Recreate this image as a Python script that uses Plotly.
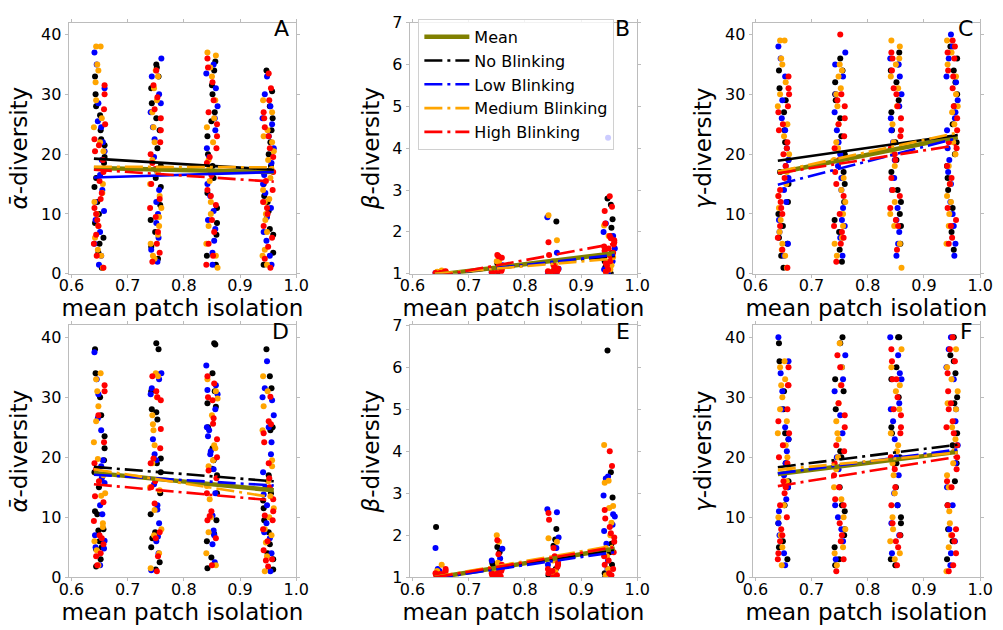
import plotly.graph_objects as go

# Group centres on the x axis (mean patch isolation) and a fixed jitter pattern
GROUPS = [0.65, 0.75, 0.85, 0.95]
JITTER = [-0.008, 0.004, -0.002, 0.009, -0.006, 0.001, 0.007, -0.009, 0.003, -0.004,
          0.006, -0.001, 0.010, -0.007, 0.002, -0.003, 0.008, -0.010, 0.005, 0.000,
          -0.005, 0.009, -0.002, 0.004, -0.008, 0.006, 0.001, -0.006, 0.003, -0.009, 0.007]

SERIES = ["none", "low", "medium", "high"]
SERIES_NAMES = {"mean": "Mean", "none": "No Blinking", "low": "Low Blinking",
                "medium": "Medium Blinking", "high": "High Blinking"}
COLORS = {"mean": "#808000", "none": "#000000", "low": "#0000ff",
          "medium": "#ffa500", "high": "#ff0000"}

# ---- Panel A: mean alpha diversity ----
A_NONE = [[33, 30, 26.5, 22.5, 21.5, 19.5, 18.5, 14.5, 10, 8.5, 6, 5, 1, 24, 16, 12, 3.5, 28],
          [35, 33, 31, 28.5, 26, 21, 18, 14.5, 11.5, 9, 7, 4.5, 24, 16, 2.5, 34.5],
          [35.5, 34, 30, 27, 23, 20, 18, 16, 11, 8.5, 6.5, 3, 25.5, 13.5, 1.5, 31.5],
          [34, 28, 24, 22, 20, 18, 15, 13, 10.5, 7.5, 6.5, 3.5, 26, 17, 12, 1.5, 30.5]]
A_LOW = [[37, 35, 28.5, 25.5, 24.5, 22, 19, 16.5, 14, 12, 9, 7, 3, 31, 20.5, 10.5, 5, 1.5],
         [36, 30, 27, 24.5, 22.5, 19.5, 17, 14, 10, 8.5, 6, 4, 33, 12, 2, 28.5],
         [33.5, 31, 28, 24, 21, 19.5, 17, 13, 10.5, 7.5, 5.5, 3.5, 26, 15, 9, 1.5, 35],
         [33, 30, 26, 25, 21, 18.5, 15, 13.5, 9.5, 5.5, 3, 1.5, 28, 23, 11, 7, 16.5]]
A_MEDIUM = [[38, 38, 35, 34, 29, 24.5, 20.5, 17.5, 15, 12, 10, 8, 4, 3, 1, 26, 22, 13.5, 6, 32],
            [34, 33, 29, 27, 24.5, 22, 19, 15, 13, 11, 8, 5, 3, 2.5, 31, 17, 9.5, 6.5],
            [37, 36.5, 33, 26, 22, 19, 15.5, 12, 8, 5, 3, 1, 29, 24.5, 17.5, 10, 34.5],
            [29, 24, 23, 22, 19, 16, 12.5, 12, 10, 7, 4, 3, 27, 20.5, 17.5, 14, 9, 1.5]]
A_HIGH = [[31.5, 30, 27.5, 22.5, 21.5, 20.5, 17, 15.5, 13.5, 12.5, 10, 9, 8, 6.5, 5, 1, 25, 19, 11, 3],
          [34, 29.5, 26, 24, 22, 20, 17.5, 15, 12.5, 9.5, 7, 5, 2, 31.5, 27.5, 18.5, 11, 3.5],
          [36, 34.5, 32, 29, 25, 23, 21, 18.5, 16.5, 14, 11.5, 9, 7, 3, 27, 19.5, 13, 5, 1.5],
          [33.5, 31, 27, 26, 23, 21, 19.5, 17, 14, 12, 10, 8, 6, 4.5, 1, 29, 24.5, 15.5, 11, 2.5]]

# ---- Panel B: beta diversity ----
B_NONE = [[1.0, 1.03, 1.01, 1.05],
          [1.25, 1.22, 1.05, 1.02, 1.0],
          [2.25, 1.15, 1.08, 1.03, 1.0],
          [2.8, 2.65, 2.3, 2.1, 1.9, 1.5, 1.3, 1.15, 1.05, 1.0]]
B_LOW = [[1.02, 1.0, 1.04],
         [1.2, 1.1, 1.03, 1.0],
         [2.35, 1.5, 1.12, 1.05, 1.01],
         [4.25, 2.2, 2.0, 1.9, 1.6, 1.3, 1.1, 1.05, 1.0]]
B_MEDIUM = [[1.08, 1.05, 1.02, 1.0],
            [1.3, 1.28, 1.1, 1.04],
            [2.4, 1.8, 1.3, 1.2, 1.1, 1.05],
            [2.15, 1.9, 1.55, 1.4, 1.3, 1.2, 1.1, 1.05]]
B_HIGH = [[1.06, 1.04, 1.03, 1.02, 1.01, 1.0, 1.05, 1.02],
          [1.45, 1.42, 1.38, 1.1, 1.06, 1.04, 1.02, 1.0],
          [1.75, 1.45, 1.2, 1.15, 1.12, 1.1, 1.08, 1.06, 1.04, 1.02, 1.0, 1.05],
          [2.85, 2.6, 2.5, 2.2, 1.9, 1.85, 1.8, 1.75, 1.7, 1.65, 1.6, 1.55, 1.5, 1.45,
           1.4, 1.3, 1.25, 1.2, 1.1, 1.05]]

# ---- Panel C: gamma diversity ----
C_NONE = [[34, 31, 27, 22, 19, 15, 12, 10, 8, 6, 5, 1, 29, 24, 17, 3],
          [36, 34, 32, 29, 26, 23, 20, 15, 12, 9, 7, 30, 17, 4, 2],
          [37, 35, 32, 29, 27, 24, 19, 14, 12, 8, 5, 34, 22, 17, 10],
          [38, 34, 32, 28, 25, 20, 16, 14, 11, 4, 36, 30, 22, 18, 7]]
C_LOW = [[38, 36, 29, 26, 24, 21, 18, 14, 12, 9, 7, 3, 33, 19, 16, 5],
         [37, 33, 27, 24, 22, 18, 14, 11, 9, 6, 3, 35, 30, 20, 16, 8],
         [36, 33, 30, 28, 26, 22, 19, 16, 11, 7, 5, 3, 35, 24, 14, 9],
         [40, 36, 33, 32, 29, 27, 24, 19, 15, 12, 8, 5, 3, 38, 26, 21, 17, 10]]
C_MEDIUM = [[39, 39, 36, 35, 30, 28, 25, 20, 17, 13, 9, 5, 4, 3, 1, 32, 23, 15, 11, 7],
            [35, 34, 31, 30, 28, 25, 22, 19, 16, 12, 8, 5, 3, 33, 21, 14, 10, 6],
            [39, 38, 35, 31, 28, 25, 22, 18, 14, 10, 5, 1, 36, 33, 20, 12, 8],
            [39, 37, 35, 30, 27, 25, 22, 18, 15, 12, 8, 5, 33, 28, 20, 13, 10]]
C_HIGH = [[33, 31, 28, 27, 25, 24, 22, 20, 18, 16, 14, 11, 10, 8, 6, 1, 30, 21, 13, 12, 4],
          [40, 30, 28, 26, 23, 21, 19, 17, 13, 10, 7, 5, 2, 29, 25, 15, 8, 6],
          [37, 34, 30, 28, 26, 24, 23, 21, 19, 16, 13, 9, 8, 4, 36, 31, 20, 14, 11],
          [39, 38, 37, 34, 31, 28, 26, 24, 21, 18, 16, 11, 9, 6, 36, 33, 22, 15, 8, 5]]

# ---- Panel D: mean alpha diversity ----
D_NONE = [[38, 34, 30, 27, 23.5, 21.5, 19.5, 17.5, 15, 11, 8, 6, 5, 3, 1.8, 10.5, 7.8, 4.7],
          [39, 38, 31, 28, 27.5, 26.3, 19.8, 17.5, 14, 10.5, 7.5, 5, 2.5, 1.3, 33.8, 19, 6.5],
          [38.8, 39, 34, 31, 29, 25, 21.5, 19.5, 17, 14, 9.5, 6, 3.3, 1.5, 28.4, 18.1, 7.2],
          [38, 33.5, 31.5, 24.5, 17, 14, 11.5, 9.5, 7.5, 5.5, 3, 1.3, 25, 12.8, 4]]
D_LOW = [[37.5, 33, 30.5, 26.5, 24.5, 19.5, 16.5, 12, 10.5, 7, 5, 2, 18.5, 15.7, 6.1, 4.8],
         [34, 33, 30.5, 23, 20.5, 15.5, 12, 9, 6.8, 6, 4, 1.2, 31.5, 19.5, 11.3],
         [35.3, 32, 30.5, 28, 25, 24.5, 21, 20.5, 18, 14, 7, 5.5, 2.5, 31.2, 23.5, 10.3, 7.8],
         [36, 31.5, 30, 29.5, 27, 22.5, 17.5, 15, 12, 9, 6.5, 4, 1, 25, 20.5, 13.8, 7.5]]
D_MEDIUM = [[34, 33, 31, 28.5, 26, 22.5, 17, 14, 9, 6, 4.5, 2, 19.7, 13.6, 8.4],
            [34, 33.5, 30, 27, 24.5, 22, 19, 15, 14.5, 8, 4, 1.5, 25.5, 11.2, 7],
            [33, 31, 27, 22, 19.5, 18.5, 13, 10, 7.5, 4, 2, 29.8, 21.5, 15.2],
            [33.5, 31, 28.5, 18.5, 16, 13.5, 10, 8, 5.8, 3.5, 1, 24.5, 19.5, 11.5, 7]]
D_HIGH = [[32, 31, 22.5, 19, 16, 13.5, 12.5, 7, 6.5, 4, 3.5, 2, 27, 18, 9.4, 5.5],
          [31, 30, 29.5, 24.7, 21.5, 19, 16, 15, 7.5, 6.5, 3.5, 1, 33.5, 19.8, 12.3],
          [33.5, 30, 29.5, 26.5, 23, 20, 16.5, 14, 11, 9.5, 6.5, 2, 32.3, 25.6, 17.8, 10.2],
          [26, 25.5, 24, 22.5, 19, 15, 13, 11, 9.5, 8, 6, 4.5, 3, 1.8, 30.1, 16.5, 10.3, 2.8]]

# ---- Panel E: beta diversity ----
E_NONE = [[2.2, 1.1, 1.05, 1.0],
          [1.72, 1.6, 1.35, 1.3, 1.1],
          [2.15, 1.9, 1.75, 1.2, 1.05],
          [6.4, 3.5, 2.9, 1.8, 1.6, 1.3, 1.1, 1.0]]
E_LOW = [[1.7, 1.2, 1.15, 1.05, 1.0],
         [1.68, 1.45, 1.4, 1.1],
         [2.62, 2.55, 1.95, 1.7, 1.3, 1.1],
         [3.4, 3.35, 2.95, 2.5, 2.45, 2.25, 2.1, 1.8, 1.4, 1.2, 1.0]]
E_MEDIUM = [[1.3, 1.15, 1.08, 1.02],
            [2.0, 1.85, 1.35, 1.15, 1.05],
            [1.93, 1.85, 1.4, 1.15, 1.05],
            [4.15, 3.3, 3.25, 2.7, 2.65, 2.3, 2.0, 1.7, 1.5, 1.2, 1.05]]
E_HIGH = [[1.2, 1.15, 1.12, 1.1, 1.08, 1.05, 1.03, 1.0, 1.02, 1.06],
          [1.88, 1.55, 1.3, 1.2, 1.15, 1.1, 1.08, 1.05, 1.02, 1.0, 1.12],
          [2.53, 2.37, 1.7, 1.5, 1.35, 1.3, 1.25, 1.2, 1.15, 1.1, 1.05, 1.0],
          [4.0, 3.65, 2.6, 2.4, 2.2, 2.05, 1.95, 1.85, 1.6, 1.5, 1.4, 1.3, 1.2, 1.1, 1.05]]

# ---- Panel F: gamma diversity ----
F_NONE = [[39, 36, 31, 24, 23, 16, 15, 9, 6, 5, 3, 28, 19, 12],
          [39, 40, 33, 28, 21, 20, 11, 8, 7, 5, 3, 2, 31, 15, 12],
          [40, 40, 35, 30, 25, 24, 19, 12, 10, 9, 7, 3, 2, 33, 20, 15],
          [37, 36, 34, 29, 22, 16, 12, 8, 6, 40, 30, 24, 19, 3]]
F_LOW = [[40, 34, 31, 28, 25, 21, 19, 17, 13, 11, 7, 4, 2, 36, 23, 15, 9],
         [37, 33, 31, 20, 18, 10, 8, 6, 35, 27, 24, 12, 3],
         [40, 34, 33, 29, 28, 26, 23, 14, 12, 7, 37, 20, 17, 9, 4],
         [40, 38, 35, 28, 22, 19, 15, 8, 4, 2, 33, 26, 21, 12, 6]]
F_MEDIUM = [[36, 35, 32, 30, 28, 24, 20, 18, 16, 10, 7, 5, 2, 33, 26, 22, 12],
            [39, 35, 32, 26, 24, 23, 18, 15, 10, 8, 5, 4, 2, 29, 20, 13],
            [35, 32, 31, 22, 21, 19, 17, 14, 10, 6, 4, 38, 28, 24, 8, 3],
            [35, 33, 29, 28, 25, 21, 19, 15, 9, 7, 5, 1, 38, 31, 23, 17, 11]]
F_HIGH = [[35, 32, 32, 26, 22, 20, 19, 16, 15, 14, 12, 8, 7, 6, 3, 28, 24, 10, 4],
          [35, 32, 27, 25, 21, 19, 15, 13, 12, 9, 7, 6, 1, 37, 29, 22, 17, 3],
          [38, 36, 33, 30, 27, 25, 24, 20, 15, 12, 7, 6, 5, 2, 33, 28, 18, 9],
          [40, 36, 34, 31, 26, 24, 22, 20, 18, 16, 15, 12, 8, 7, 6, 2, 1, 38, 29, 28, 25, 4]]

# Regression lines: values at the two ends of FIT_X
FIT_X = [0.64, 0.96]
FIT_A = {"mean": [17.7, 17.0], "none": [19.25, 17.4], "low": [16.1, 17.0],
         "medium": [17.9, 17.8], "high": [17.4, 15.4]}
FIT_B = {"mean": [0.97, 1.49], "none": [0.98, 1.42], "low": [0.97, 1.45],
         "medium": [1.0, 1.36], "high": [0.93, 1.72]}
FIT_C = {"mean": [16.9, 22.9], "none": [18.9, 23.2], "low": [14.9, 22.7],
         "medium": [17.1, 23.6], "high": [16.8, 21.5]}
FIT_D = {"mean": [17.4, 14.5], "none": [18.4, 16.0], "low": [17.1, 15.3],
         "medium": [18.0, 13.3], "high": [15.5, 12.8]}
FIT_E = {"mean": [0.99, 1.68], "none": [1.0, 1.64], "low": [0.98, 1.6],
         "medium": [1.01, 1.76], "high": [1.0, 1.72]}
FIT_F = {"mean": [17.2, 20.9], "none": [18.35, 22.1], "low": [17.3, 21.3],
         "medium": [17.9, 20.8], "high": [15.2, 20.1]}

ALPHA_TITLE = "<i>ᾱ</i>-diversity"
BETA_TITLE = "<i>β</i>-diversity"
GAMMA_TITLE = "<i>γ</i>-diversity"

PANELS = [
    ("A", [A_NONE, A_LOW, A_MEDIUM, A_HIGH], FIT_A, ALPHA_TITLE, [0, 42], [0, 10, 20, 30, 40], {"mean", "none", "low"}),
    ("B", [B_NONE, B_LOW, B_MEDIUM, B_HIGH], FIT_B, BETA_TITLE, [1, 7], [1, 2, 3, 4, 5, 6, 7], {"mean"}),
    ("C", [C_NONE, C_LOW, C_MEDIUM, C_HIGH], FIT_C, GAMMA_TITLE, [0, 42], [0, 10, 20, 30, 40], {"mean", "none"}),
    ("D", [D_NONE, D_LOW, D_MEDIUM, D_HIGH], FIT_D, ALPHA_TITLE, [0, 42], [0, 10, 20, 30, 40], {"mean"}),
    ("E", [E_NONE, E_LOW, E_MEDIUM, E_HIGH], FIT_E, BETA_TITLE, [1, 7], [1, 2, 3, 4, 5, 6, 7], {"mean"}),
    ("F", [F_NONE, F_LOW, F_MEDIUM, F_HIGH], FIT_F, GAMMA_TITLE, [0, 42], [0, 10, 20, 30, 40], {"mean"}),
]

# Axes placement in paper coordinates
X_DOMAINS = [[0.0598, 0.2921], [0.4078, 0.6401], [0.7577, 0.9900]]
Y_DOMAINS = [[0.5667, 0.9778], [0.0698, 0.4825]]

FONT = "DejaVu Sans"
SPINE = "#bcbcbc"
DASHDOT = "18px,5px,3px,5px"

fig = go.Figure()
layout = dict(
    width=1003, height=630,
    margin=dict(l=0, r=0, t=0, b=0),
    paper_bgcolor="white", plot_bgcolor="white",
    font=dict(family=FONT, size=16, color="black"),
    showlegend=True,
    legend=dict(x=0.4167, y=0.984, xanchor="left", yanchor="top",
                bgcolor="rgba(255,255,255,0.8)", bordercolor="#d0d0d0", borderwidth=1,
                font=dict(family=FONT, size=16), traceorder="normal",
                itemwidth=45),
    annotations=[],
)

for p, (letter, series_data, fit, ytitle, yrange, yticks, solid) in enumerate(PANELS):
    row, col = divmod(p, 3)
    suffix = "" if p == 0 else str(p + 1)
    xref, yref = "x" + suffix, "y" + suffix

    # jittered scatter points, one trace per blinking level
    for k, key in enumerate(SERIES):
        xs, ys = [], []
        for g, values in enumerate(series_data[k]):
            for i, v in enumerate(values):
                xs.append(GROUPS[g] + JITTER[(i * 13 + k * 7 + g * 5) % len(JITTER)])
                ys.append(v)
        fig.add_trace(go.Scatter(
            x=xs, y=ys, mode="markers", xaxis=xref, yaxis=yref,
            marker=dict(color=COLORS[key], size=6, line=dict(width=0)),
            showlegend=False, hoverinfo="skip"))

    # regression lines
    for key in ["mean"] + SERIES:
        is_mean = key == "mean"
        fig.add_trace(go.Scatter(
            x=FIT_X, y=fit[key], mode="lines", xaxis=xref, yaxis=yref,
            name=SERIES_NAMES[key],
            line=dict(color=COLORS[key], width=4.5 if is_mean else 2.6,
                      dash="solid" if key in solid else DASHDOT),
            showlegend=(letter == "B"), hoverinfo="skip"))

    axis_common = dict(
        showline=True, linecolor=SPINE, linewidth=1, mirror="ticks",
        ticks="outside", ticklen=3, tickwidth=1, tickcolor=SPINE,
        showgrid=False, zeroline=False,
        tickfont=dict(family=FONT, size=16, color="black"),
    )
    layout["xaxis" + suffix] = dict(
        axis_common, domain=X_DOMAINS[col], range=[0.595, 1.0],
        tickvals=[0.6, 0.7, 0.8, 0.9, 1.0], ticktext=["0.6", "0.7", "0.8", "0.9", "1.0"],
        anchor=yref, ticklabelstandoff=-6,
        title=dict(text="mean patch isolation", font=dict(family=FONT, size=23), standoff=2))
    layout["yaxis" + suffix] = dict(
        axis_common, domain=Y_DOMAINS[row], range=yrange,
        tickvals=yticks, ticktext=[str(t) for t in yticks],
        anchor=xref,
        title=dict(text=ytitle, font=dict(family=FONT, size=23), standoff=6))
    layout["annotations"].append(dict(
        text=letter, xref=xref + " domain", yref=yref + " domain",
        x=0.975, y=1.0, yshift=-6, xanchor="right", yanchor="middle", showarrow=False,
        font=dict(family=FONT, size=22, color="black")))

fig.update_layout(**layout)
fig.write_html("out.html", include_plotlyjs=True)
